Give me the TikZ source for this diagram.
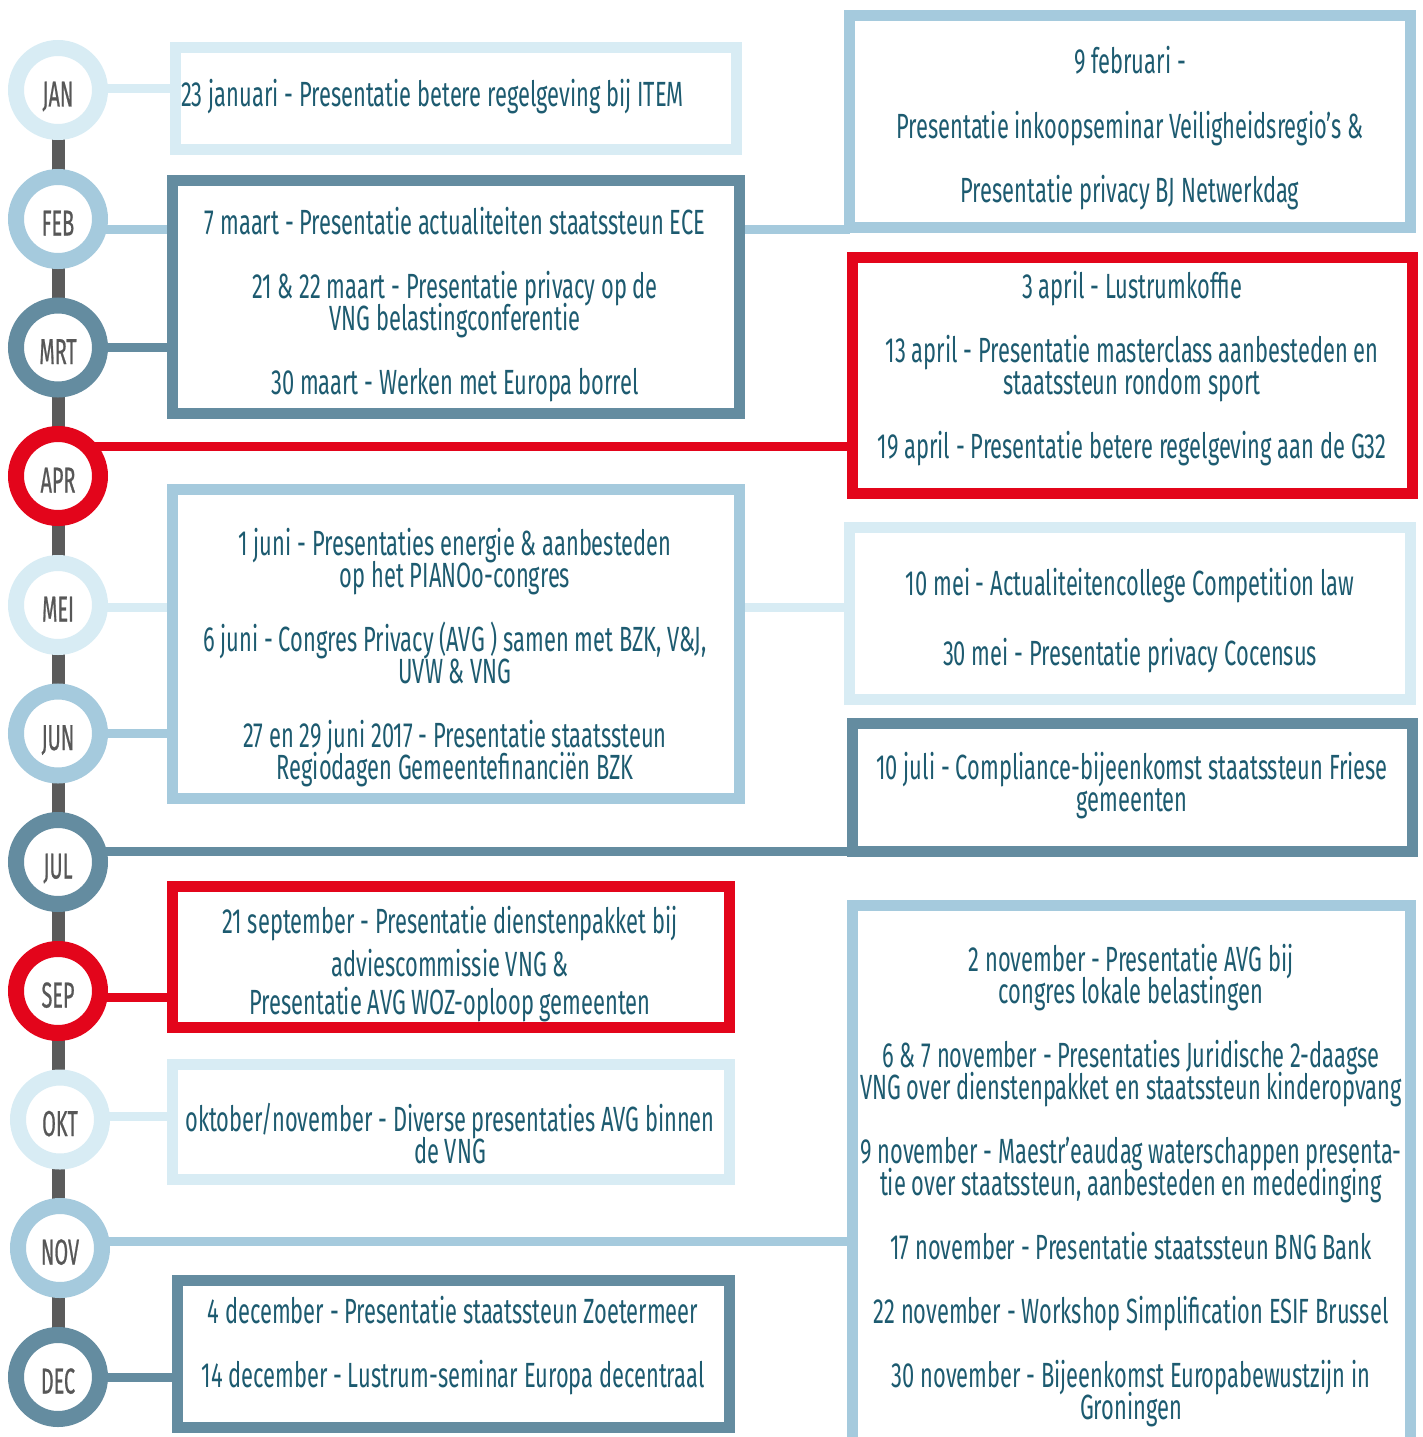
\documentclass[tikz,border=0pt]{standalone}
\usepackage{fontspec}
\setmainfont{Fira Sans}
\newfontfamily\evfont[FakeStretch=0.625]{Fira Sans}
\newfontfamily\mofont[FakeStretch=0.55,FakeBold=0.6]{Fira Sans}
\usetikzlibrary{backgrounds}
\definecolor{cl}{HTML}{D8ECF4}
\definecolor{cm}{HTML}{A5CADD}
\definecolor{cd}{HTML}{648CA0}
\definecolor{cr}{HTML}{E3051B}
\definecolor{cg}{HTML}{5B5B5B}
\definecolor{ct}{HTML}{1D5B70}
\definecolor{cmo}{HTML}{575757}
\tikzset{
 mcirc/.style={circle, draw=#1, line width=16pt, fill=white, minimum size=84pt, inner sep=0pt, outer sep=0pt, text=cmo, text height=33pt, text depth=0pt, font=\mofont\fontsize{36}{36}\selectfont},
 evframe/.style={rectangle, draw=#1, line width=11pt, fill=white, inner sep=0pt, outer sep=0pt},
 conn/.style={draw=#1, line width=9pt},
 spine/.style={draw=cg, line width=13pt},
 ev/.style={text=ct, font=\evfont\fontsize{35}{35}\selectfont, inner sep=0pt, text height=24pt, text depth=0pt},
}
\newcommand\evbox[6]{\node[evframe=#2, minimum width={(#5-#3-11)*1pt}, minimum height={(#6-#4-11)*1pt}] (#1) at ({(#3+#5)/2},{(#4+#6)/2}) {};}
\begin{document}
\begin{tikzpicture}[x=1pt,y=-1pt]
\useasboundingbox (0,0) rectangle (1422,1437);
\clip (0,0) rectangle (1422,1437);
% month circles
\node[mcirc=cl] (jan) at (58,90) {JAN};
\node[mcirc=cm] (feb) at (58,219) {FEB};
\node[mcirc=cd] (mrt) at (58,347.5) {MRT};
\node[mcirc=cr] (apr) at (58,476) {APR};
\node[mcirc=cl] (mei) at (58,605) {MEI};
\node[mcirc=cm] (jun) at (58,733.5) {JUN};
\node[mcirc=cd] (jul) at (58,862) {JUL};
\node[mcirc=cr] (sep) at (58,991) {SEP};
\node[mcirc=cl] (okt) at (60,1119.5) {OKT};
\node[mcirc=cm] (nov) at (60,1248) {NOV};
\node[mcirc=cd] (dec) at (58,1377) {DEC};
% event boxes
\evbox{jbox}{cl}{170}{42}{742}{155}
\evbox{fbox}{cm}{844}{10}{1416}{233}
\evbox{mbox}{cd}{167}{175}{745}{419}
\evbox{abox}{cr}{847}{252}{1418}{499}
\evbox{jnbox}{cm}{167}{484}{745}{804}
\evbox{mebox}{cl}{844}{522}{1416}{705}
\evbox{jlbox}{cd}{847}{718}{1418}{857}
\evbox{sbox}{cr}{167}{881}{735}{1033}
\evbox{obox}{cl}{167}{1059}{735}{1185}
\evbox{nbox}{cm}{847}{900}{1416}{1460}
\evbox{dbox}{cd}{172}{1275}{735}{1433}
% connectors
\begin{pgfonlayer}{background}
\draw[spine] (jan.center) -- (dec.center);
\draw[conn=cl] ([yshift=2pt]jan.center) -- ([yshift=2pt]jan.center -| jbox.west);
\draw[conn=cm] ([yshift=-10pt]feb.center) -- ([yshift=-10pt]feb.center -| fbox.west);
\draw[conn=cd] (mrt.center) -- (mrt.center -| mbox.west);
\draw[conn=cr] ([yshift=30pt]apr.center) -- ([yshift=30pt]apr.center -| abox.west);
\draw[conn=cl] ([yshift=-2pt]mei.center) -- ([yshift=-2pt]mei.center -| mebox.west);
\draw[conn=cm] (jun.center) -- (jun.center -| jnbox.west);
\draw[conn=cd] ([yshift=11pt]jul.center) -- ([yshift=11pt]jul.center -| jlbox.west);
\draw[conn=cr] ([yshift=-6pt]sep.center) -- ([yshift=-6pt]sep.center -| sbox.west);
\draw[conn=cl] ([yshift=3.5pt]okt.center) -- ([yshift=3.5pt]okt.center -| obox.west);
\draw[conn=cm] ([yshift=7pt]nov.center) -- ([yshift=7pt]nov.center -| nbox.west);
\draw[conn=cd] (dec.center) -- (dec.center -| dbox.west);
\end{pgfonlayer}
% texts
\node[ev, anchor=west] (t1) at (181,94) {23 januari - Presentatie betere regelgeving bij ITEM};
\node[ev] (t2) at (1130,62) {9 februari -};
\node[ev] (t3) at (1130,126) {Presentatie inkoopseminar Veiligheidsregio’s \&};
\node[ev] (t4) at (1130,190) {Presentatie privacy BJ Netwerkdag};
\node[ev] (t5) at (455,222) {7 maart - Presentatie actualiteiten staatssteun ECE};
\node[ev] (t6) at (455,286) {21 \& 22 maart - Presentatie privacy op de};
\node[ev] (t7) at (455,318) {VNG belastingconferentie};
\node[ev] (t8) at (455,382) {30 maart - Werken met Europa borrel};
\node[ev] (t9) at (1132,286) {3 april - Lustrumkoffie};
\node[ev] (t10) at (1132,350) {13 april - Presentatie masterclass aanbesteden en};
\node[ev] (t11) at (1132,382) {staatssteun rondom sport};
\node[ev] (t12) at (1132,446) {19 april - Presentatie betere regelgeving aan de G32};
\node[ev] (t13) at (455,543) {1 juni - Presentaties energie \& aanbesteden};
\node[ev] (t14) at (455,575) {op het PIANOo-congres};
\node[ev] (t15) at (455,639) {6 juni - Congres Privacy (AVG ) samen met BZK, V\&J,};
\node[ev] (t16) at (455,671) {UVW \& VNG};
\node[ev] (t17) at (455,735) {27 en 29 juni 2017 - Presentatie staatssteun};
\node[ev] (t18) at (455,767) {Regiodagen Gemeentefinanciën BZK};
\node[ev] (t19) at (1130,583) {10 mei - Actualiteitencollege Competition law};
\node[ev] (t20) at (1130,653) {30 mei - Presentatie privacy Cocensus};
\node[ev] (t21) at (1132,767) {10 juli - Compliance-bijeenkomst staatssteun Friese};
\node[ev] (t22) at (1132,799) {gemeenten};
\node[ev] (t23) at (450,921) {21 september - Presentatie dienstenpakket bij};
\node[ev] (t24) at (450,964) {adviescommissie VNG \&};
\node[ev] (t25) at (450,1002) {Presentatie AVG WOZ-oploop gemeenten};
\node[ev] (t26) at (450,1119) {oktober/november - Diverse presentaties AVG binnen};
\node[ev] (t27) at (450,1151) {de VNG};
\node[ev] (t28) at (1131,959) {2 november - Presentatie AVG bij};
\node[ev] (t29) at (1131,991) {congres lokale belastingen};
\node[ev] (t30) at (1131,1055) {6 \& 7 november - Presentaties Juridische 2-daagse};
\node[ev] (t31) at (1131,1087) {VNG over dienstenpakket en staatssteun kinderopvang};
\node[ev] (t32) at (1131,1151) {9 november - Maestr’eaudag waterschappen presenta-};
\node[ev] (t33) at (1131,1183) {tie over staatssteun, aanbesteden en mededinging};
\node[ev] (t34) at (1131,1247) {17 november - Presentatie staatssteun BNG Bank};
\node[ev] (t35) at (1131,1311) {22 november - Workshop Simplification ESIF Brussel};
\node[ev] (t36) at (1131,1375) {30 november - Bijeenkomst Europabewustzijn in};
\node[ev] (t37) at (1131,1407) {Groningen};
\node[ev] (t38) at (453,1311) {4 december - Presentatie staatssteun Zoetermeer};
\node[ev] (t39) at (453,1375) {14 december - Lustrum-seminar Europa decentraal};
\end{tikzpicture}
\end{document}
